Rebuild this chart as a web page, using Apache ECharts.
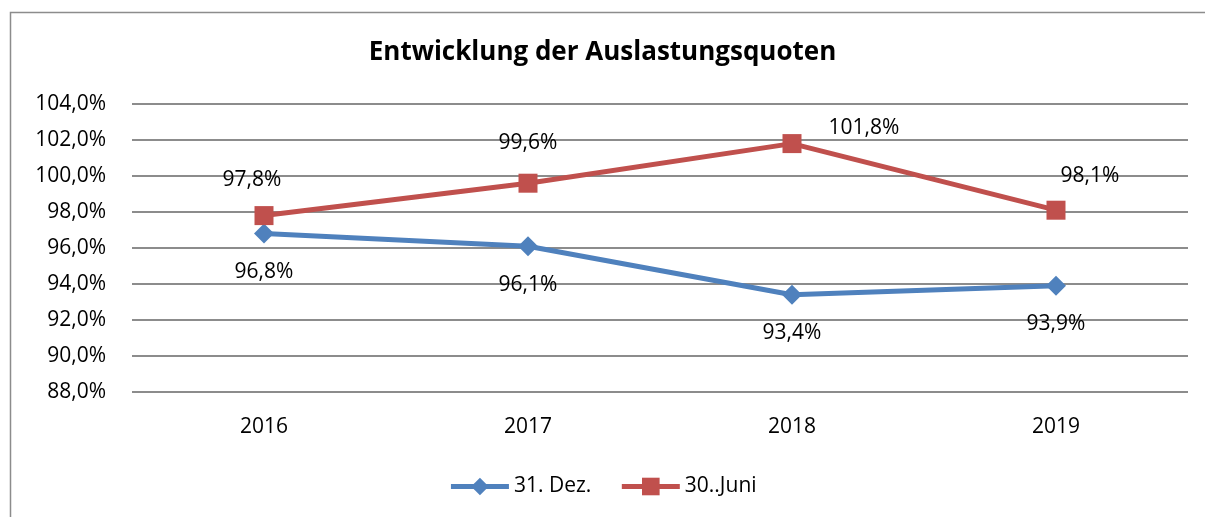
<html>
<head>
    <meta charset="utf-8">
    <title>ECharts</title>
    <script src="https://cdn.jsdelivr.net/npm/echarts@6.0.0/dist/echarts.min.js"></script>
</head>
<body style="margin:0">
<div id="main" style="width:1205px;height:517px;"></div>
<script type="text/javascript">
    // Daten
    var years = ['2016', '2017', '2018', '2019'];
    var dez = [96.8, 96.1, 93.4, 93.9];
    var juni = [97.8, 99.6, 101.8, 98.1];
    var yTicks = [88, 104, 2]; // min, max, Schritt

    var FONT = '"Open Sans", "Noto Sans", sans-serif';
    function pct(v) { return v.toFixed(1).replace('.', ',') + '%'; }

    var myChart = echarts.init(document.getElementById('main'));

    // Label-Verschiebungen wie im Original
    var juniOffsets = [[-12, 0], [0, -4], [72, 20], [34, 2]];
    var dezOffsets = [[0, 4], [0, 4], [0, 4], [0, 4]];

    var option = {
        animation: false,
        backgroundColor: '#fff',
        graphic: [{
            type: 'rect',
            shape: { x: 10.5, y: 12.5, width: 1220, height: 520 },
            style: { fill: 'none', stroke: '#8c8c8c', lineWidth: 1.5 }
        }],
        title: {
            text: 'Entwicklung der Auslastungsquoten',
            left: 'center',
            top: 35,
            textStyle: { fontFamily: FONT, fontSize: 26, fontWeight: 'bold', color: '#000' }
        },
        legend: {
            top: 471,
            left: 'center',
            itemWidth: 58,
            itemHeight: 22,
            itemGap: 28,
            lineStyle: { width: 5 },
            textStyle: { fontFamily: FONT, fontSize: 21, color: '#000' },
            data: ['31. Dez.', '30..Juni']
        },
        grid: { left: 132, right: 17, top: 104, bottom: 125, containLabel: false },
        xAxis: {
            type: 'category',
            data: years,
            boundaryGap: true,
            axisLine: { show: false },
            axisTick: { show: false },
            axisLabel: { fontFamily: FONT, fontSize: 21, color: '#000', margin: 25 }
        },
        yAxis: {
            type: 'value',
            min: yTicks[0],
            max: yTicks[1],
            interval: yTicks[2],
            axisLine: { show: false },
            axisTick: { show: false },
            splitLine: { lineStyle: { color: '#8c8c8c', width: 2 } },
            axisLabel: { fontFamily: FONT, fontSize: 21, color: '#000', margin: 26, formatter: function (v) { return pct(v); } }
        },
        series: [{
            name: '31. Dez.',
            type: 'line',
            data: dez.map(function (v, i) {
                return { value: v, label: { offset: dezOffsets[i] } };
            }),
            symbol: 'diamond',
            symbolSize: 20,
            color: '#4F81BD',
            lineStyle: { width: 5, color: '#4F81BD' },
            label: {
                show: true, position: 'bottom', distance: 14,
                fontFamily: FONT, fontSize: 21, color: '#000',
                formatter: function (p) { return pct(p.value); }
            }
        }, {
            name: '30..Juni',
            type: 'line',
            data: juni.map(function (v, i) {
                return { value: v, label: { offset: juniOffsets[i] } };
            }),
            symbol: 'rect',
            symbolSize: 19,
            color: '#C0504D',
            lineStyle: { width: 5, color: '#C0504D' },
            label: {
                show: true, position: 'top', distance: 16,
                fontFamily: FONT, fontSize: 21, color: '#000',
                formatter: function (p) { return pct(p.value); }
            }
        }]
    };

    myChart.setOption(option);
</script>
</body>
</html>
